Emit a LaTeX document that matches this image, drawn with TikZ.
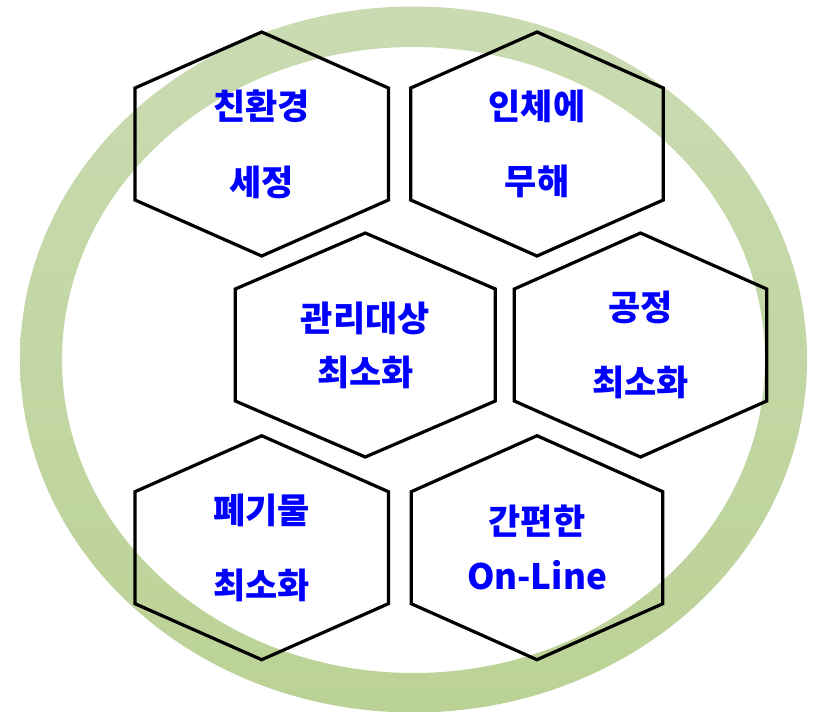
\documentclass[tikz,border=0pt]{standalone}
\usepackage{fontspec}
\setmainfont{Noto Sans CJK KR}
\definecolor{ringtop}{RGB}{202,219,178}
\definecolor{ringbot}{RGB}{187,210,150}
\definecolor{txtblue}{RGB}{0,0,255}
\tikzset{
  hexline/.style={draw=black, line width=3.2pt, line join=miter},
  hextext/.style={text=txtblue, font=\fontsize{35}{40}\selectfont\bfseries, align=center, inner sep=0pt},
  gap/.style={execute at begin node={\setlength{\baselineskip}{#1}}}
}
\newcommand{\hexdraw}[2]{%
  \draw[hexline, shift={(#1)}] (0,-112) -- (#2,-56) -- (#2,56) -- (0,112) -- (-#2,56) -- (-#2,-56) -- cycle;}
\begin{document}
\begin{tikzpicture}[x=1pt, y=-1pt]
\useasboundingbox (0,0) rectangle (817,712);
% ring
\shade[even odd rule, top color=ringtop, bottom color=ringbot]
  (413.5,359.5) ellipse [x radius=393.5, y radius=353]
  (413.5,360) ellipse [x radius=351.5, y radius=313];
% centres
\coordinate (c1) at (261.7,144);
\coordinate (c2) at (537,144);
\coordinate (c3) at (365.3,345);
\coordinate (c4) at (640.5,345);
\coordinate (c5) at (261.7,547.7);
\coordinate (c6) at (537,547.7);
\hexdraw{c1}{126.7}
\hexdraw{c2}{126.2}
\hexdraw{c3}{130}
\hexdraw{c4}{126.2}
\hexdraw{c5}{126.7}
\hexdraw{c6}{125.8}
\node[hextext, gap=76pt] (t1) at (c1) {친환경\\세정};
\node[hextext, gap=75pt] (t2) at (c2) {인체에\\무해};
\node[hextext, gap=54pt] (t3) at (c3) {관리대상\\최소화};
\node[hextext, gap=75pt] (t4) at (c4) {공정\\최소화};
\node[hextext, gap=75pt] (t5) at (c5) {폐기물\\최소화};
\node[hextext, gap=55pt] (t6) at (c6) {간편한\\On-Line};
\end{tikzpicture}
\end{document}
